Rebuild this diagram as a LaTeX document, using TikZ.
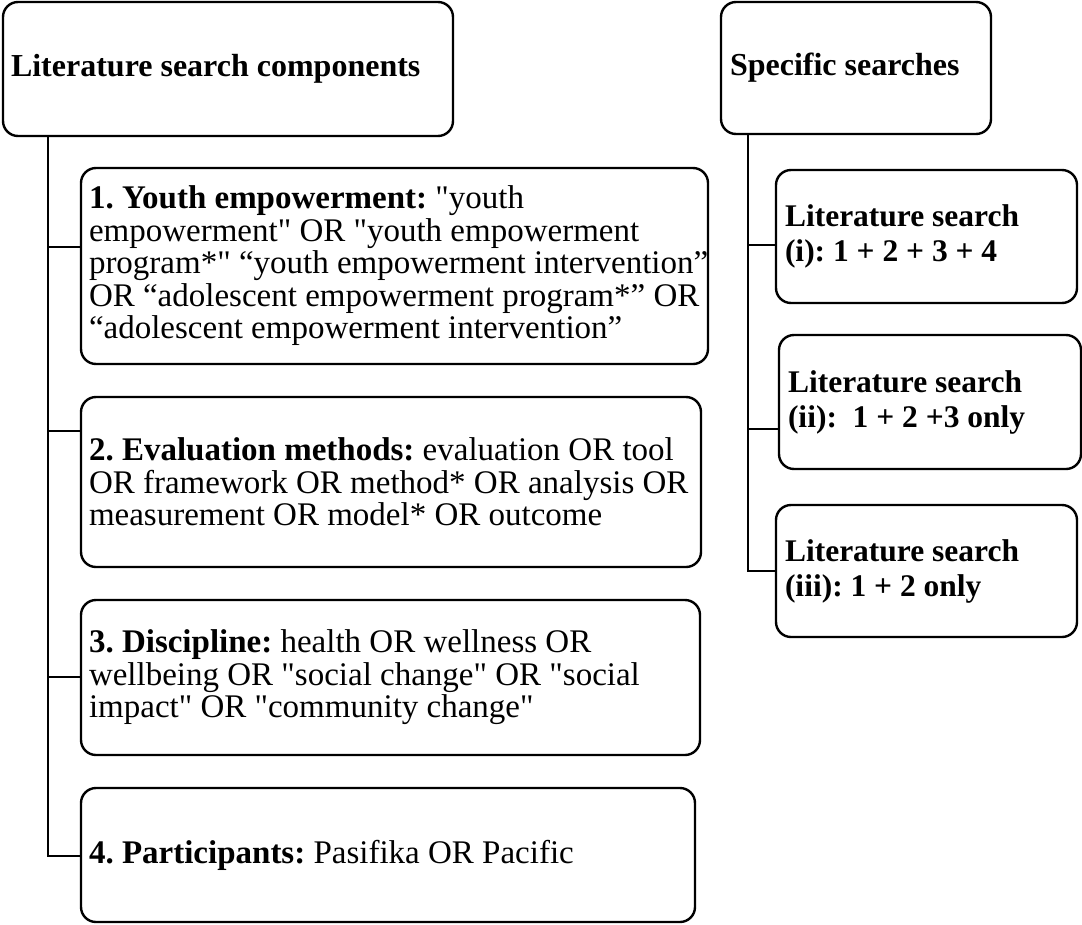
\documentclass[tikz,border=0pt]{standalone}
\usepackage{fontspec}
\setmainfont{Liberation Serif}
% body family without TeX ligatures, so that " stays a straight quote
\newfontfamily\bodyfont{Liberation Serif}
\usetikzlibrary{fit}
\frenchspacing
\begin{document}
\begin{tikzpicture}[x=1pt,y=-1pt,
  box/.style={draw=black, line width=2.4pt, rounded corners=15pt, inner sep=0pt},
  link/.style={draw=black, line width=2.6pt},
  headtext/.style={inner sep=0pt, anchor=west, font=\fontsize{32}{38}\selectfont\bfseries},
  bodytext/.style={inner sep=0pt, anchor=west, align=left, font=\bodyfont\fontsize{33}{32.5}\selectfont},
  searchtext/.style={inner sep=0pt, anchor=west, align=left, font=\fontsize{31.5}{35}\selectfont\bfseries}]
\useasboundingbox (0,0) rectangle (1082,924);

% column headers
\node[box, fit={(3,2) (453,136)}] (A) {};
\node[headtext] (At) at ([xshift=9pt]A.west) {Literature search components};
\node[box, fit={(721,2) (991,134)}] (B) {};
\node[headtext] (Bt) at ([xshift=10pt]B.west) {Specific searches};

% search components
\node[box, fit={(81,168) (708,364)}] (b1) {};
\node[bodytext] (t1) at ([xshift=9pt]b1.west) {\textbf{1. Youth empowerment:} "youth\\
empowerment" OR "youth empowerment\\
program*" “youth empowerment intervention”\\
OR “adolescent empowerment program*” OR\\
“adolescent empowerment intervention”};

\node[box, fit={(81,397) (701,567)}] (b2) {};
\node[bodytext] (t2) at ([xshift=9pt]b2.west) {\textbf{2. Evaluation methods:} evaluation OR tool\\
OR framework OR method* OR analysis OR\\
measurement OR model* OR outcome};

\node[box, fit={(81,600) (700,755)}] (b3) {};
\node[bodytext] (t3) at ([xshift=9pt]b3.west) {\textbf{3. Discipline:} health OR wellness OR\\
wellbeing OR "social change" OR "social\\
impact" OR "community change"};

\node[box, fit={(81,788) (695,922)}] (b4) {};
\node[bodytext] (t4) at ([xshift=9pt]b4.west) {\textbf{4. Participants:} Pasifika OR Pacific};

% specific searches
\node[box, fit={(776,170) (1077,303)}] (r1) {};
\node[searchtext] (s1) at ([xshift=10pt]r1.west) {Literature search\\(i): 1 + 2 + 3 + 4};
\node[box, fit={(779,335) (1081,469)}] (r2) {};
\node[searchtext] (s2) at ([xshift=10pt]r2.west) {Literature search\\(ii):\ \ 1 + 2 +3 only};
\node[box, fit={(776,505) (1077,637)}] (r3) {};
\node[searchtext] (s3) at ([xshift=10pt]r3.west) {Literature search\\(iii): 1 + 2 only};

% left tree
\coordinate (lt) at (48,136);
\coordinate (j1) at (48,247);
\coordinate (j2) at (48,431);
\coordinate (j3) at (48,677);
\coordinate (j4) at (48,856);
\draw[link] (lt) -- (j4) -- (b4.west |- j4);
\draw[link] (j1) -- (b1.west |- j1);
\draw[link] (j2) -- (b2.west |- j2);
\draw[link] (j3) -- (b3.west |- j3);

% right tree
\coordinate (rt) at (748,134);
\coordinate (k1) at (748,245);
\coordinate (k2) at (748,429);
\coordinate (k3) at (748,571);
\draw[link] (rt) -- (k3) -- (r3.west |- k3);
\draw[link] (k1) -- (r1.west |- k1);
\draw[link] (k2) -- (r2.west |- k2);
\end{tikzpicture}
\end{document}
